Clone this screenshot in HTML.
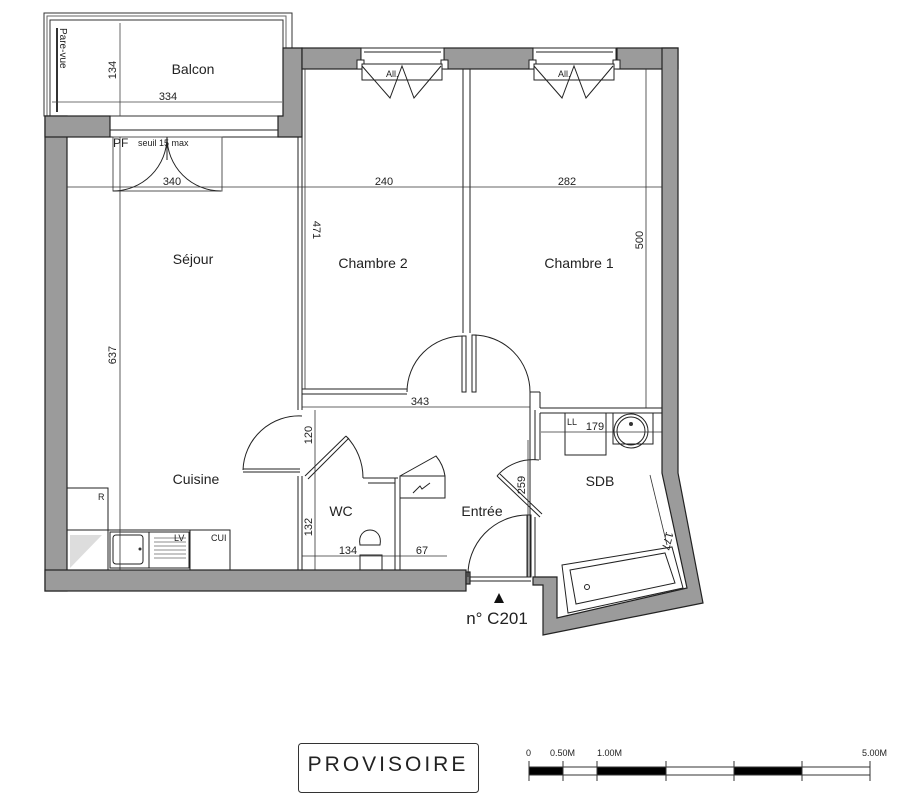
<!DOCTYPE html>
<html><head><meta charset="utf-8"><style>
html,body{margin:0;padding:0;background:#fff;}
svg{display:block;}
text{font-family:"Liberation Sans",sans-serif;fill:#222;}
</style></head><body>
<svg width="903" height="800" viewBox="0 0 903 800" xmlns="http://www.w3.org/2000/svg">
<g fill="none" stroke="#333" stroke-width="1">
<rect x="44" y="13" width="248" height="103"/>
<rect x="47" y="16" width="239" height="100" stroke="#666"/>
<rect x="50" y="20" width="233" height="96"/>
<line x1="57" y1="28" x2="57" y2="112" stroke-width="2"/>
</g>
<text x="60" y="28" font-size="10" transform="rotate(90 60 28)">Pare-vue</text>
<text x="193" y="74" font-size="14" text-anchor="middle">Balcon</text>
<g stroke="#444" stroke-width="0.8">
<line x1="120" y1="23" x2="120" y2="116"/><line x1="52" y1="102" x2="282" y2="102"/>
</g>
<text x="116" y="70" font-size="11" transform="rotate(-90 116 70)" text-anchor="middle">134</text>
<text x="168" y="100" font-size="11" text-anchor="middle">334</text>

<g fill="#9b9b9b" stroke="#222" stroke-width="1.2">
<rect x="45" y="116" width="22" height="475"/>
<rect x="45" y="116" width="65" height="21"/>
<polygon points="278,116 283,116 283,48 302,48 302,137 278,137"/>
<rect x="302" y="48" width="59" height="21"/>
<rect x="444" y="48" width="89" height="21"/>
<rect x="617" y="48" width="61" height="21"/>
<polygon points="662,48 678,48 678,473 703,603 543,635 543,585 533,585 533,577 557,577 557,618 687,588 662,473"/>
<rect x="45" y="570" width="421" height="21"/>
<rect x="466" y="572" width="4" height="12" fill="#777"/>
</g>

<g fill="none" stroke="#222" stroke-width="1">
<rect x="110" y="130" width="168" height="7"/>
<rect x="113" y="137" width="109" height="54" stroke="#555"/>
<path d="M167,137 A54,54 0 0 1 113,191"/>
<path d="M167,137 A54,54 0 0 0 221,191"/>
<line x1="167" y1="137" x2="167" y2="160"/>
</g>
<text x="113" y="147" font-size="12">PF</text>
<text x="138" y="146" font-size="9" fill="#444">seuil 15 max</text>

<g fill="none" stroke="#222" stroke-width="1">
<g>
<rect x="361" y="48" width="83" height="16" fill="#fff"/>
<line x1="364" y1="52" x2="441" y2="52"/>
<rect x="357" y="60" width="7" height="9" fill="#fff"/><rect x="441" y="60" width="7" height="9" fill="#fff"/>
<rect x="362" y="64" width="80" height="16" fill="#fff"/>
<polyline points="362,66 390,98 402,66 414,98 441,66"/>
</g>
<g transform="translate(172,0)">
<rect x="361" y="48" width="83" height="16" fill="#fff"/>
<line x1="364" y1="52" x2="441" y2="52"/>
<rect x="357" y="60" width="7" height="9" fill="#fff"/><rect x="441" y="60" width="7" height="9" fill="#fff"/>
<rect x="362" y="64" width="80" height="16" fill="#fff"/>
<polyline points="362,66 390,98 402,66 414,98 441,66"/>
</g>
</g>
<text x="386" y="77" font-size="9" fill="#666">All.</text>
<text x="558" y="77" font-size="9" fill="#666">All.</text>

<g fill="none" stroke="#222" stroke-width="1">
<line x1="298" y1="137" x2="298" y2="410"/><line x1="302" y1="69" x2="302" y2="410"/>
<line x1="302" y1="389" x2="407" y2="389"/><line x1="302" y1="394" x2="407" y2="394"/>
<line x1="463" y1="69" x2="463" y2="333"/><line x1="470" y1="69" x2="470" y2="333"/>
<line x1="530" y1="392" x2="540" y2="392"/>
<line x1="540" y1="392" x2="540" y2="408"/>
<line x1="298" y1="476" x2="298" y2="570"/><line x1="302" y1="476" x2="302" y2="570"/>
<line x1="363" y1="478" x2="398" y2="478"/><line x1="368" y1="483" x2="395" y2="483"/>
<line x1="395" y1="478" x2="395" y2="570"/><line x1="400" y1="483" x2="400" y2="570"/>
<line x1="530" y1="392" x2="530" y2="577"/><line x1="535" y1="410" x2="535" y2="460"/>
<line x1="535" y1="517" x2="535" y2="577"/>
<line x1="540" y1="408" x2="662" y2="408"/><line x1="540" y1="413" x2="662" y2="413"/>
<line x1="540" y1="413" x2="540" y2="460"/>
<path d="M407,392 A56,56 0 0 1 463,336"/>
<rect x="462" y="336" width="4" height="56"/>
<path d="M530,392 A57,57 0 0 0 473,335"/>
<rect x="472" y="335" width="4" height="57"/>
<path d="M302,416 A56,56 0 0 0 243,470"/>
<line x1="243" y1="469" x2="300" y2="469"/><line x1="243" y1="472" x2="300" y2="472"/>
<path d="M363,478 A60,60 0 0 0 346,436"/>
<line x1="305" y1="476" x2="346" y2="436"/><line x1="308" y1="479" x2="349" y2="438"/>
<rect x="400" y="476" width="45" height="22"/>
<path d="M400,476 L436,456 A40,40 0 0 1 445,476"/>
<polyline points="413,493 420,486 422,489 430,483"/>
<path d="M539,460 A48,48 0 0 0 497,476"/>
<line x1="497" y1="476" x2="540" y2="517"/><line x1="500" y1="474" x2="542" y2="514"/>
<path d="M527,515 A60,60 0 0 0 468,577"/>
<rect x="527" y="515" width="4" height="62"/>
<line x1="470" y1="577" x2="531" y2="577"/><line x1="470" y1="581" x2="531" y2="581"/>
<rect x="67" y="488" width="41" height="42"/>
<rect x="67" y="530" width="163" height="40"/>
<line x1="108" y1="530" x2="108" y2="570"/>
<rect x="110" y="532" width="79" height="36"/>
<rect x="113" y="535" width="30" height="29" rx="3"/>
<line x1="149" y1="532" x2="149" y2="568"/>
<line x1="190" y1="530" x2="190" y2="570"/>
<rect x="613" y="413" width="40" height="31"/>
<circle cx="631" cy="431" r="17"/><circle cx="631" cy="431" r="14"/>
<rect x="565" y="413" width="41" height="42"/>
<path d="M360,545 C356,525 384,525 380,545 Z"/>
<rect x="360" y="555" width="22" height="15"/>
<polygon points="562,565 672,547 683,588 568,613"/>
<polygon points="570,570 665,553 675,583 576,604"/>
<circle cx="587" cy="587" r="2.5"/>
</g>
<g stroke="#666" stroke-width="0.8">
<line x1="154" y1="538" x2="186" y2="538"/><line x1="154" y1="542" x2="186" y2="542"/><line x1="154" y1="546" x2="186" y2="546"/><line x1="154" y1="550" x2="186" y2="550"/><line x1="154" y1="554" x2="186" y2="554"/><line x1="154" y1="558" x2="186" y2="558"/>
</g>
<polygon points="70,535 102,535 70,568" fill="#ddd"/>
<circle cx="140" cy="549" r="1.5" fill="#333"/>
<circle cx="631" cy="424" r="2" fill="#333"/>

<g stroke="#333" stroke-width="0.8" fill="none">
<line x1="67" y1="187" x2="662" y2="187"/>
<line x1="120" y1="137" x2="120" y2="570"/>
<line x1="305" y1="69" x2="305" y2="389"/>
<line x1="646" y1="69" x2="646" y2="408"/>
<line x1="302" y1="407" x2="530" y2="407"/>
<line x1="315" y1="410" x2="315" y2="570"/>
<line x1="302" y1="556" x2="447" y2="556"/>
<line x1="528" y1="440" x2="528" y2="577"/>
<line x1="541" y1="432" x2="662" y2="432"/>
<line x1="650" y1="475" x2="667" y2="545"/>
</g>
<g font-size="11" fill="#333" text-anchor="middle">
<text x="172" y="185">340</text>
<text x="384" y="185">240</text>
<text x="567" y="185">282</text>
<text x="420" y="405">343</text>
<text x="348" y="554">134</text>
<text x="422" y="554">67</text>
<text x="595" y="430">179</text>
<text x="116" y="355" transform="rotate(-90 116 355)">637</text>
<text x="313" y="230" transform="rotate(90 313 230)">471</text>
<text x="643" y="240" transform="rotate(-90 643 240)">500</text>
<text x="312" y="435" transform="rotate(-90 312 435)">120</text>
<text x="312" y="527" transform="rotate(-90 312 527)">132</text>
<text x="525" y="485" transform="rotate(-90 525 485)">259</text>
<text x="664" y="540" transform="rotate(105 664 540)">177</text>
</g>
<g font-size="9" fill="#333">
<text x="567" y="425">LL</text>
<text x="98" y="500">R</text>
<text x="174" y="541">LV</text>
<text x="211" y="541">CUI</text>
</g>

<g font-size="14" text-anchor="middle">
<text x="193" y="264">Séjour</text>
<text x="373" y="268">Chambre 2</text>
<text x="579" y="268">Chambre 1</text>
<text x="196" y="484">Cuisine</text>
<text x="341" y="516">WC</text>
<text x="482" y="516">Entrée</text>
<text x="600" y="486">SDB</text>
</g>
<polygon points="499,593 494,603 504,603" fill="#111"/>
<text x="497" y="624" font-size="17" text-anchor="middle">n° C201</text>

<rect x="298.5" y="743.5" width="180" height="49" rx="3" fill="none" stroke="#333"/>
<text x="388" y="771" font-size="21" text-anchor="middle" letter-spacing="3">PROVISOIRE</text>

<g stroke="#333" stroke-width="1">
<rect x="529" y="767" width="341" height="8" fill="#fff"/>
<rect x="529" y="767" width="34" height="8" fill="#000"/>
<rect x="597" y="767" width="69" height="8" fill="#000"/>
<rect x="734" y="767" width="68" height="8" fill="#000"/>
<line x1="529" y1="761" x2="529" y2="781"/><line x1="563" y1="761" x2="563" y2="781"/>
<line x1="597" y1="761" x2="597" y2="781"/><line x1="666" y1="761" x2="666" y2="781"/>
<line x1="734" y1="761" x2="734" y2="781"/><line x1="802" y1="761" x2="802" y2="781"/>
<line x1="870" y1="761" x2="870" y2="781"/>
</g>
<g font-size="9" fill="#333">
<text x="526" y="756">0</text>
<text x="550" y="756">0.50M</text>
<text x="597" y="756">1.00M</text>
<text x="862" y="756">5.00M</text>
</g>
</svg>
</body></html>
